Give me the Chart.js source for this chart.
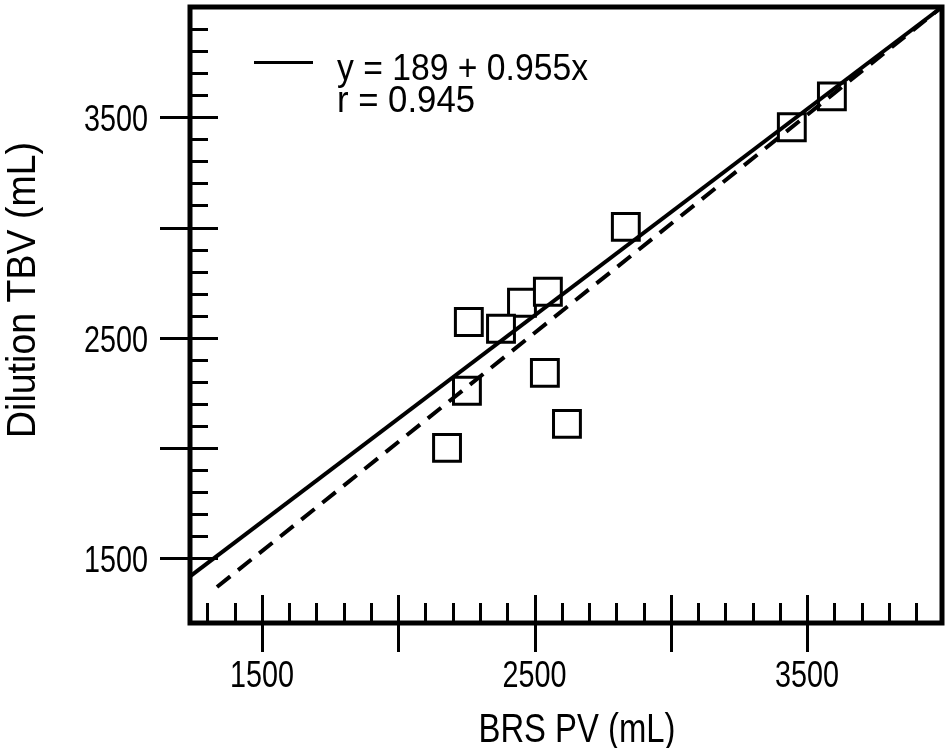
<!DOCTYPE html>
<html>
<head>
<meta charset="utf-8">
<title>BRS PV vs Dilution TBV</title>
<script src="https://cdn.jsdelivr.net/npm/chart.js@4.4.0/dist/chart.umd.min.js"></script>
<style>
body{margin:0;background:#fff}
</style>
</head>
<body>
<canvas id="chart" width="951" height="748"></canvas>
<script>
/* values */
const brsPV = [2454, 2259, 2377, 2549, 2538, 2252, 2619, 2179, 2835, 3444, 3591];
const tbv   = [2659, 2572, 2541, 2709, 2341, 2260, 2110, 2001, 3003, 3455, 3595];

/* regression line (solid) and identity line (dashed), end points as drawn */
const fitX = [1236, 3995], fitY = [1418, 4000];
const idX  = [1335, 3995], idY  = [1370, 4000];

const xLabels = [1500, 2500, 3500];
const yLabels = [1500, 2500, 3500];

const FONT = '"Liberation Sans",Arial,sans-serif';

const pts = (xs, ys) => xs.map((v, i) => ({x: v, y: ys[i]}));

/* frame, inward ticks, labels, legend
   (fillText maxWidth squeezes the text to the narrow face of the original) */
const frame = {
  id: 'frame',
  afterDraw(chart){
    const {ctx, chartArea: a, scales: {x, y}} = chart;
    ctx.save();
    ctx.strokeStyle = '#000';
    ctx.fillStyle = '#000';
    ctx.lineCap = 'butt';

    ctx.lineWidth = 3;
    for(let v = 1300; v <= 3900; v += 100){
      const px = Math.round(x.getPixelForValue(v)) + .5, major = v % 500 === 0;
      ctx.beginPath();
      ctx.moveTo(px, a.bottom - (major ? 28 : 20));
      ctx.lineTo(px, a.bottom + (major ? 29 : 0));
      ctx.stroke();
    }
    for(let v = 1500; v <= 3900; v += 100){
      const py = Math.round(y.getPixelForValue(v)) + .5, major = v % 500 === 0;
      ctx.beginPath();
      ctx.moveTo(a.left - (major ? 30 : 0), py);
      ctx.lineTo(a.left + (major ? 28 : 18), py);
      ctx.stroke();
    }

    ctx.lineWidth = 5;
    ctx.strokeRect(a.left, a.top, a.right - a.left, a.bottom - a.top);

    ctx.font = '37px ' + FONT;
    ctx.textBaseline = 'alphabetic';
    ctx.textAlign = 'center';
    xLabels.forEach(v => ctx.fillText(String(v), x.getPixelForValue(v), 687, 64));
    ctx.textAlign = 'right';
    yLabels.forEach(v => ctx.fillText(String(v), 148, y.getPixelForValue(v) + 14, 64));

    ctx.font = '40px ' + FONT;
    ctx.textAlign = 'center';
    ctx.fillText('BRS PV (mL)', 577, 742, 197);
    ctx.save();
    ctx.translate(35, 290);
    ctx.rotate(-Math.PI / 2);
    ctx.fillText('Dilution TBV (mL)', 0, 0, 296);
    ctx.restore();

    /* legend */
    ctx.lineWidth = 3;
    ctx.beginPath(); ctx.moveTo(254, 62.5); ctx.lineTo(313, 62.5); ctx.stroke();
    ctx.font = '37px ' + FONT;
    ctx.textAlign = 'left';
    ctx.fillText('y = 189 + 0.955x', 337, 80, 251);
    ctx.fillText('r = 0.945', 337, 112, 138);
    ctx.restore();
  }
};

new Chart(document.getElementById('chart'), {
  type: 'scatter',
  data: {
    datasets: [
      { type: 'line', data: pts(fitX, fitY), borderColor: '#000', borderWidth: 4,
        pointRadius: 0, fill: false, order: 0, clip: false },
      { type: 'line', data: pts(idX, idY), borderColor: '#000', borderWidth: 4,
        borderDash: [17, 10], pointRadius: 0, fill: false, order: 0, clip: false },
      { data: pts(brsPV, tbv), pointStyle: 'rect', pointRadius: 19, pointHoverRadius: 19,
        borderWidth: 3, borderColor: '#000', backgroundColor: '#fff', order: 1 }
    ]
  },
  options: {
    responsive: false,
    animation: false,
    events: [],
    layout: { autoPadding: false, padding: { left: 190, top: 7, right: 9, bottom: 125 } },
    scales: {
      x: { type: 'linear', min: 1236, max: 3995, display: false },
      y: { type: 'linear', min: 1207, max: 4000, display: false }
    },
    plugins: { legend: { display: false }, tooltip: { enabled: false } }
  },
  plugins: [frame]
});
</script>
</body>
</html>
